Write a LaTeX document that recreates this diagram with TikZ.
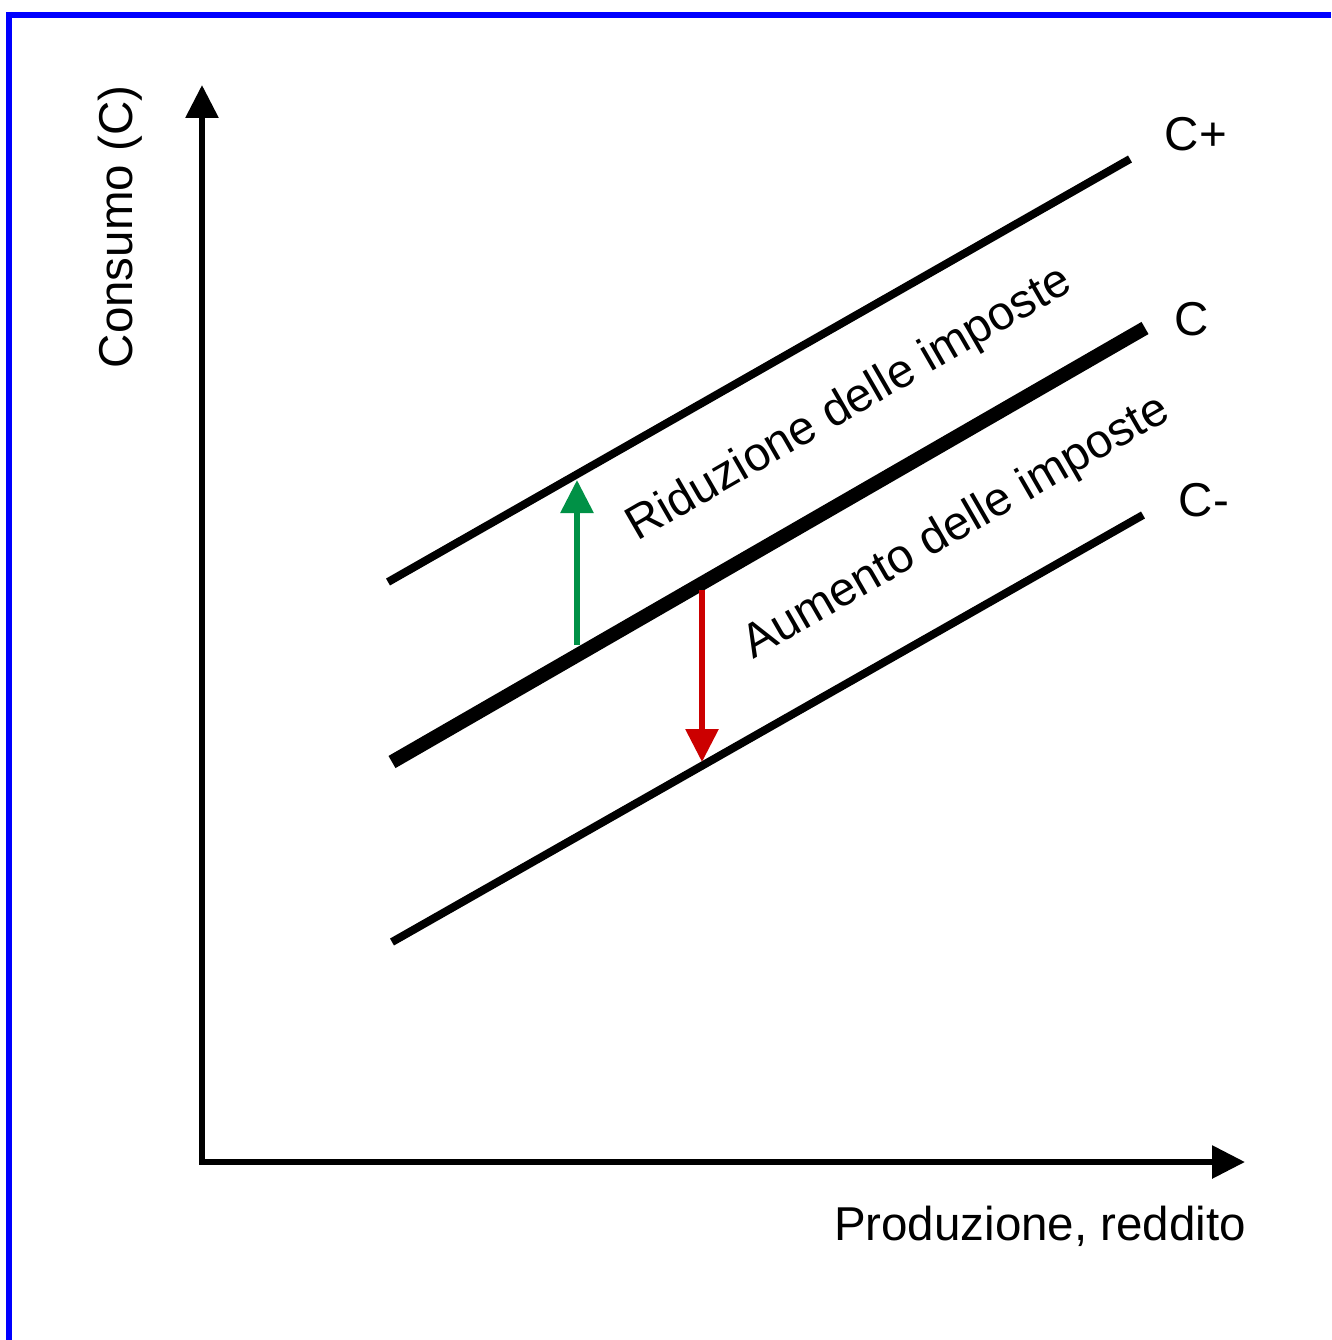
\documentclass[tikz,border=0pt]{standalone}
\usepackage{fontspec}
\setmainfont{Liberation Sans}
\usetikzlibrary{arrows.meta}
\definecolor{frameblue}{RGB}{0,0,255}
\definecolor{upgreen}{RGB}{0,145,70}
\definecolor{downred}{RGB}{204,0,0}
\begin{document}
\begin{tikzpicture}[x=1pt,y=-1pt,
  axis/.style={line width=6pt,-{Triangle[length=33pt,width=32pt]}},
  curve/.style={line width=8pt},
  maincurve/.style={line width=14pt},
  shiftarrow/.style={line width=6pt,-{Triangle[length=33pt,width=32pt]}},
  lbl/.style={font=\fontsize{47.5}{56}\selectfont,inner sep=0pt}]
\useasboundingbox (0,0) rectangle (1331,1340);
\fill[white] (0,0) rectangle (1331,1340);
% frame
\draw[frameblue,line width=6pt] (6,15) -- (1331,15);
\draw[frameblue,line width=6pt] (9,12) -- (9,1340);
% axes
\coordinate (O) at (202,1162);
\coordinate (ytip) at (202,85);
\coordinate (xtip) at (1245,1162);
\draw[axis] ([yshift=3pt]O) -- (ytip);
\draw[axis] ([xshift=-3pt]O) -- (xtip);
% curves
\coordinate (cp1) at (388,582);
\coordinate (cp2) at (1130,159);
\coordinate (c1) at (392,762);
\coordinate (c2) at (1145,328);
\coordinate (cm1) at (392,942);
\coordinate (cm2) at (1143,515);
\draw[curve] (cp1) -- (cp2);
\draw[maincurve] (c1) -- (c2);
\draw[curve] (cm1) -- (cm2);
% shift arrows
\coordinate (gs) at (577,645);
\coordinate (ge) at (577,480);
\coordinate (rs) at (702,590);
\coordinate (re) at (702,762);
\draw[shiftarrow,upgreen] (gs) -- (ge);
\draw[shiftarrow,downred] (rs) -- (re);
% labels
\node[lbl] (lcp) at (1196,134) {C+};
\node[lbl] (lc) at (1192,319) {C};
\node[lbl] (lcm) at (1204,500) {C-};
\node[lbl,rotate=90] (ly) at (120,227) {Consumo (C)};
\node[lbl] (lx) at (1040,1226) {Produzione, reddito};
\node[lbl,rotate=30] (lrid) at (850,405) {Riduzione delle imposte};
\node[lbl,rotate=30] (laum) at (957,528) {Aumento delle imposte};
\end{tikzpicture}
\end{document}
